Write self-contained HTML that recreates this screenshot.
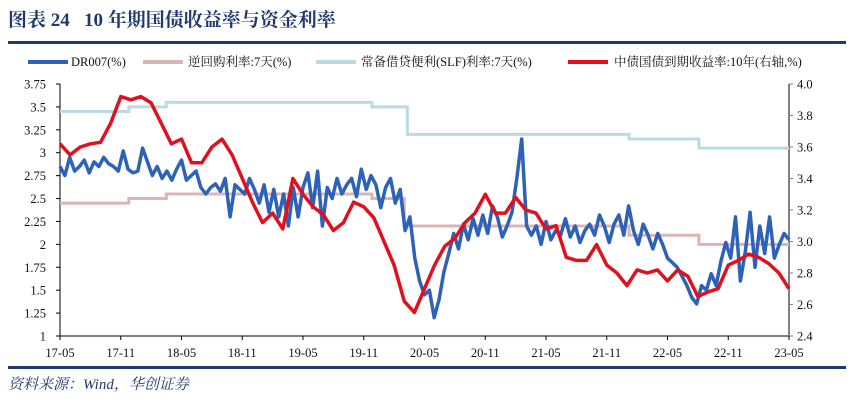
<!DOCTYPE html>
<html><head><meta charset="utf-8"><style>
body{margin:0;background:#fff;width:852px;height:402px;overflow:hidden;font-family:"Liberation Serif","Noto Serif CJK SC",serif}
</style></head><body>
<svg id="c" width="852" height="402" xmlns="http://www.w3.org/2000/svg">
<text x="8" y="26" font-size="19" font-weight="bold" fill="#1f3a6e" font-family="Liberation Serif,Noto Serif CJK SC,serif">图表 24&#160;&#160;&#160;10 年期国债收益率与资金利率</text>
<rect x="8" y="41" width="838" height="3" fill="#1f3a6e"/>
<g font-size="12.5" fill="#111">
<g><rect x="28" y="60" width="40" height="4" fill="#2e62b8"/><text x="71" y="66">DR007(%)</text></g>
<g><rect x="143" y="60" width="40" height="4" fill="#dcb4b4"/><text x="188" y="66">逆回购利率:7天(%)</text></g>
<g><rect x="316" y="60" width="40" height="4" fill="#b9dce3"/><text x="361" y="66">常备借贷便利(SLF)利率:7天(%)</text></g>
<g><rect x="568" y="60" width="40" height="4" fill="#e0101c"/><text x="614" y="66">中债国债到期收益率:10年(右轴,%)</text></g>
</g>
<g id="axes"></g>
<g id="series"></g>
<rect x="8" y="366" width="838" height="3" fill="#1f3a6e"/>
<text x="8" y="389" font-size="15" font-style="italic" fill="#1f3a6e">资料来源：Wind，华创证券</text>
</svg>
<script>
const xLabels=["17-05","17-11","18-05","18-11","19-05","19-11","20-05","20-11","21-05","21-11","22-05","22-11","23-05"];
const leftTicks=[1,1.25,1.5,1.75,2,2.25,2.5,2.75,3,3.25,3.5,3.75];
const rightTicks=[2.4,2.6,2.8,3.0,3.2,3.4,3.6,3.8,4.0];
const repoSteps=[[0,2.45],[6.8,2.50],[10.5,2.55],[30.8,2.50],[34,2.20],[56.2,2.10],[63.1,2.00],[72,2.00]];
const slfSteps=[[0,3.45],[6.8,3.50],[10.5,3.55],[30.8,3.50],[34.3,3.20],[56.2,3.15],[63.1,3.05],[72,3.05]];
const dr007=[2.85,2.75,2.95,2.8,2.85,2.92,2.78,2.9,2.85,2.95,2.88,2.85,2.8,3.02,2.82,2.78,
2.8,3.05,2.9,2.75,2.85,2.72,2.8,2.7,2.82,2.92,2.7,2.75,2.8,2.62,2.55,2.62,2.66,2.58,2.72,2.3,2.65,2.6,2.55,2.72,2.6,2.45,2.65,2.35,
2.6,2.3,2.55,2.2,2.62,2.3,2.62,2.78,2.4,2.8,2.2,2.62,2.5,2.72,2.55,2.65,2.72,2.52,2.82,2.6,2.75,2.65,2.4,2.62,2.72,2.45,
2.6,2.15,2.3,1.85,1.6,1.45,1.5,1.2,1.4,1.7,1.9,2.12,1.95,2.22,2.05,2.28,2.1,2.32,2.12,2.42,2.3,2.08,2.2,2.35,
2.72,3.15,2.2,2.1,2.2,2.0,2.25,2.05,2.15,2.1,2.28,2.08,2.2,2.02,2.15,2.22,2.1,2.32,2.2,2.02,2.22,2.32,2.1,2.42,
2.15,2.0,2.22,2.1,1.95,2.12,2.0,1.85,1.8,1.75,1.65,1.55,1.42,1.35,1.55,1.5,1.68,1.55,1.82,2.02,1.85,2.3,1.6,1.92,
2.35,1.75,2.2,1.9,2.3,1.85,2.0,2.12,2.05];
const cgb10=[3.62,3.55,3.6,3.62,3.63,3.75,3.92,3.9,3.92,3.88,3.75,3.62,3.65,3.5,3.5,3.6,3.65,3.55,3.4,3.25,
3.12,3.18,3.08,3.4,3.3,3.22,3.17,3.07,3.12,3.25,3.22,3.15,3.0,2.85,2.62,2.55,2.7,2.85,2.97,3.02,3.12,3.18,3.3,3.18,
3.18,3.28,3.2,3.18,3.08,3.1,2.9,2.88,2.88,2.98,2.85,2.8,2.72,2.82,2.8,2.82,2.75,2.82,2.78,2.65,2.68,2.7,2.85,2.88,
2.92,2.9,2.86,2.8,2.70];
const X0=60,X1=789,Y0=84,Y1=336,NM=72;
const xm=m=>X0+(X1-X0)*m/NM;
const yl=v=>Y1-(v-1)/2.75*(Y1-Y0);
const yr=v=>Y1-(v-2.4)/1.6*(Y1-Y0);
const NS="http://www.w3.org/2000/svg";
function mk(tag,attrs,parent){const e=document.createElementNS(NS,tag);for(const k in attrs)e.setAttribute(k,attrs[k]);parent.appendChild(e);return e;}
const ax=document.getElementById('axes'),sr=document.getElementById('series');
let a=mk('line',{x1:X0,y1:Y0,x2:X0,y2:Y1,stroke:'#000','stroke-width':1},ax);


a=mk('line',{x1:X0,y1:Y1,x2:X1,y2:Y1,stroke:'#000','stroke-width':1},ax);


a=mk('line',{x1:X1,y1:Y0,x2:X1,y2:Y1,stroke:'#808080','stroke-width':2},ax);


leftTicks.forEach(v=>{const y=yl(v);mk('line',{x1:X0-4,y1:y,x2:X0,y2:y,stroke:'#000'},ax);
const t=mk('text',{x:X0-14,y:y+4.5,'font-size':12.5,'text-anchor':'end',fill:'#111'},ax);t.textContent=String(v);

});
rightTicks.forEach(v=>{const y=yr(v);mk('line',{x1:X1,y1:y,x2:X1+4,y2:y,stroke:'#808080'},ax);
const t=mk('text',{x:X1+8,y:y+4.5,'font-size':12.5,fill:'#111'},ax);t.textContent=v.toFixed(1);

});
xLabels.forEach((s,i)=>{const x=xm(i*6);mk('line',{x1:x,y1:Y1,x2:x,y2:Y1+4,stroke:'#000'},ax);
const t=mk('text',{x:x,y:357,'font-size':12.5,'text-anchor':'middle',fill:'#111'},ax);t.textContent=s;

});
function stepPath(steps){let d='';steps.forEach((s,i)=>{const x=xm(s[0]),y=yl(s[1]);if(i==0)d='M'+x+','+y;else{d+=' L'+x+','+yl(steps[i-1][1])+' L'+x+','+y;}});return d;}
let p=mk('path',{d:stepPath(slfSteps),fill:'none',stroke:'#b9dce3','stroke-width':3},sr);


p=mk('path',{d:stepPath(repoSteps),fill:'none',stroke:'#dcb4b4','stroke-width':3},sr);


function linePath(arr,yf){return arr.map((v,i)=>(i?'L':'M')+xm(i*NM/(arr.length-1)).toFixed(1)+','+yf(v).toFixed(1)).join(' ');}
p=mk('path',{d:linePath(dr007,yl),fill:'none',stroke:'#2e62b8','stroke-width':3.5,'stroke-linejoin':'round'},sr);


p=mk('path',{d:linePath(cgb10,yr),fill:'none',stroke:'#e0101c','stroke-width':3.5,'stroke-linejoin':'round'},sr);


</script>
</body></html>
